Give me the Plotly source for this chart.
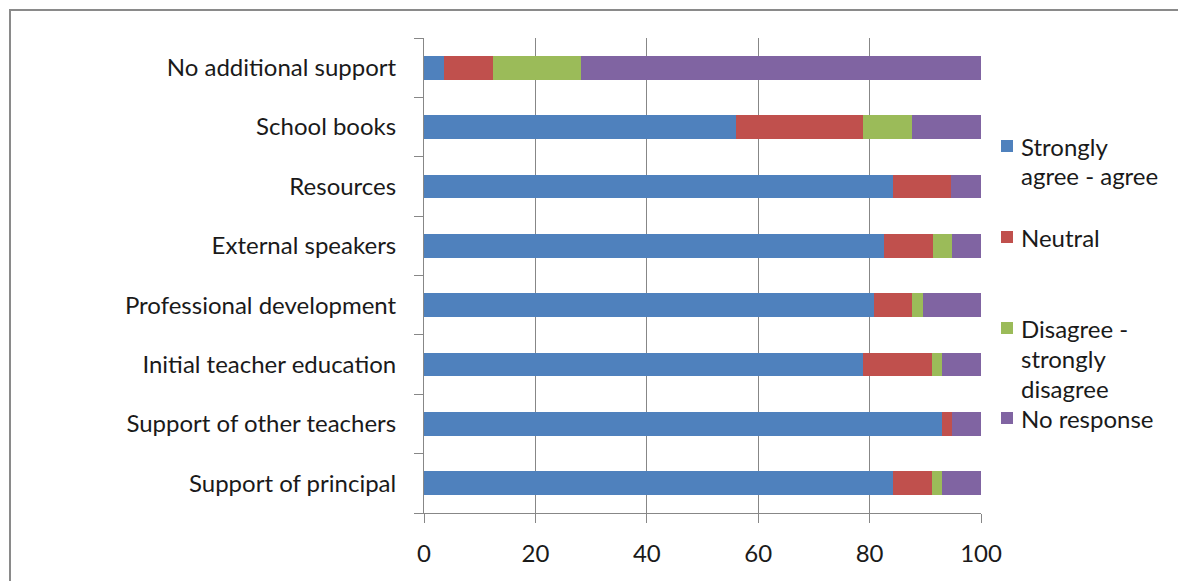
import plotly.graph_objects as go

# Survey categories (bottom to top) and responses in percent (n = 57)
categories = [
    "Support of principal",
    "Support of other teachers",
    "Initial teacher education",
    "Professional development",
    "External speakers",
    "Resources",
    "School books",
    "No additional support",
]
agree = [84.2, 93.0, 78.9, 80.7, 82.5, 84.2, 56.1, 3.5]
neutral = [7.0, 1.8, 12.3, 7.0, 8.8, 10.5, 22.8, 8.8]
disagree = [1.8, 0.0, 1.8, 1.8, 3.5, 0.0, 8.8, 15.8]
no_response = [7.0, 5.3, 7.0, 10.5, 5.3, 5.3, 12.3, 71.9]

series_names = ["Strongly agree - agree", "Neutral", "Disagree - strongly disagree", "No response"]
series_values = [agree, neutral, disagree, no_response]
series_colors = ["#4F81BD", "#C0504D", "#9BBB59", "#8064A2"]
# Legend text, wrapped as in the side legend
legend_lines = [
    ["Strongly", "agree - agree"],
    ["Neutral"],
    ["Disagree -", "strongly", "disagree"],
    ["No response"],
]
x_ticks = [0, 20, 40, 60, 80, 100]

W, H = 1178, 581
L, R, T, B = 424, 981, 38, 513  # plot area in pixels

FONT = "Lato"
FS = 24
TXT = "#1a1a1a"
GREY = "#878787"

fig = go.Figure()
for name, vals, col in zip(series_names, series_values, series_colors):
    fig.add_trace(go.Bar(
        y=categories, x=vals, name=name, orientation="h",
        marker=dict(color=col, line=dict(width=0)),
        showlegend=False,
    ))


def px(x):
    return (x - L) / (R - L)


def py(y):
    return (B - y) / (B - T)


# Legend drawn beside the plot: colour swatch + wrapped label lines
item_tops = [146, 237, 328, 418]
line_h = 30
shapes = []
annotations = []
for lines, col, y0 in zip(legend_lines, series_colors, item_tops):
    shapes.append(dict(
        type="rect", xref="paper", yref="paper",
        x0=px(1001), x1=px(1013), y0=py(y0 + 6), y1=py(y0 - 6),
        fillcolor=col, line=dict(width=0),
    ))
    for i, ln in enumerate(lines):
        annotations.append(dict(
            text=ln, xref="paper", yref="paper",
            x=px(1019), y=py(y0 + i * line_h),
            xanchor="left", yanchor="middle", showarrow=False,
            font=dict(family=FONT, size=FS, color=TXT),
        ))

# Chart frame
shapes.append(dict(
    type="rect", xref="paper", yref="paper",
    x0=px(10), x1=px(1400), y0=py(800), y1=py(10),
    line=dict(color="#8a8a8a", width=2), fillcolor="rgba(0,0,0,0)", layer="below",
))

fig.update_layout(
    barmode="stack",
    bargap=0.6,
    width=W, height=H,
    margin=dict(l=L, r=W - R, t=T, b=H - B, pad=0),
    paper_bgcolor="white",
    plot_bgcolor="white",
    font=dict(family=FONT, size=FS, color=TXT),
    shapes=shapes,
    annotations=annotations,
    xaxis=dict(
        range=[0, 100], tickvals=x_ticks, ticktext=[str(v) for v in x_ticks],
        showgrid=True, gridcolor=GREY, gridwidth=1,
        showline=True, linecolor=GREY, linewidth=1,
        ticks="outside", ticklen=9, tickcolor=GREY, tickwidth=1,
        zeroline=False, ticklabelstandoff=10,
        tickfont=dict(family=FONT, size=FS, color=TXT),
    ),
    yaxis=dict(
        categoryorder="array", categoryarray=categories,
        showline=True, linecolor=GREY, linewidth=1,
        ticks="outside", ticklen=9, tickcolor=GREY, tickwidth=1,
        tickson="boundaries", showgrid=False,
        ticklabelstandoff=22,
        tickfont=dict(family=FONT, size=FS, color=TXT),
    ),
)

fig.write_html("out.html")
